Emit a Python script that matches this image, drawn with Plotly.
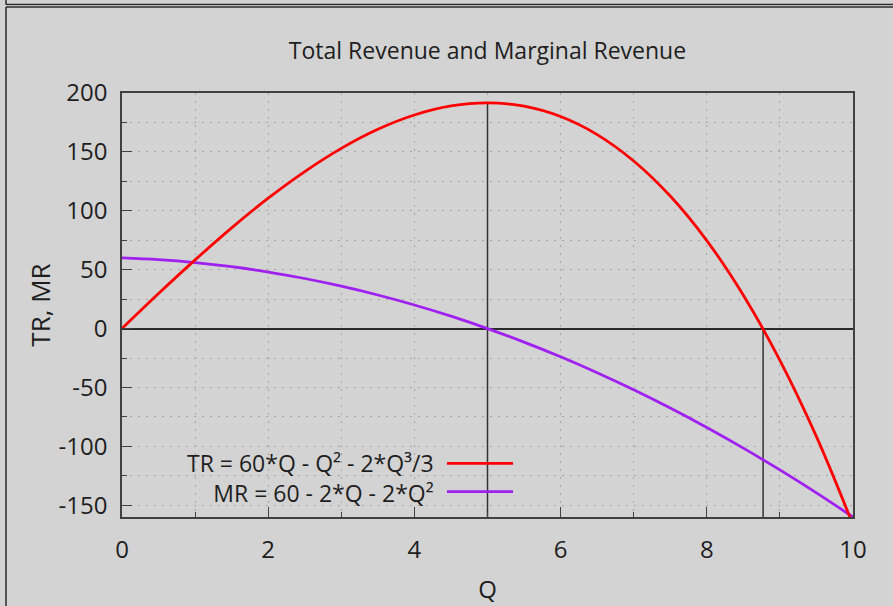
import plotly.graph_objects as go

# values
q = [0, 0.5, 1, 1.5, 2, 2.5, 3, 3.5, 4, 4.5, 5, 5.5, 6, 6.5, 7, 7.5, 8, 8.5, 9, 9.5, 10]
tr = [0, 29.7, 58.3, 85.5, 110.7, 133.3, 153.0, 169.2, 181.3, 189.0, 191.7,
      188.8, 180.0, 164.7, 142.3, 112.5, 74.7, 28.3, -27.0, -91.8, -166.7]
mr = [60, 58.5, 56, 52.5, 48, 42.5, 36, 28.5, 20, 10.5, 0,
      -11.5, -24, -37.5, -52, -67.5, -84, -101.5, -120, -139.5, -160]

guide_q = [5.0, 8.77]
guide_top = [191.7, 0.0]

x_ticks = [0, 2, 4, 6, 8, 10]
y_ticks = [-150, -100, -50, 0, 50, 100, 150, 200]
y_ticktext = ["-150", "-100", "-50", "0", "50", "100", "150", "200"]

y_range = [-160, 200]
x_range = [0, 10]

BG = "#d3d3d3"
INK = "#1e1e1e"
FONT = "Open Sans"
RED = "#ff0000"
PURPLE = "#a020f0"
GRID = "#a6a6a6"

tr_label = "TR = 60*Q - Q² - 2*Q³/3"
mr_label = "MR = 60 - 2*Q - 2*Q²"

# plot box in pixels
W, H = 893, 606
L, R, T, B = 122, 40, 93, 89
pw, ph = W - L - R, H - T - B


def px_x(p):
    return (p - L) / pw


def px_y(p):
    return (H - B - p) / ph


gx, gy = [], []
for gq, top in zip(guide_q, guide_top):
    gx += [gq, gq, None]
    gy += [y_range[0], top, None]

fig = go.Figure()
fig.add_trace(go.Scatter(x=gx, y=gy, mode="lines",
                         line=dict(color="#333333", width=1.5),
                         hoverinfo="skip", showlegend=False))
fig.add_trace(go.Scatter(x=q, y=mr, mode="lines", name=mr_label,
                         line=dict(color=PURPLE, width=2.8, shape="spline"),
                         showlegend=False))
fig.add_trace(go.Scatter(x=q, y=tr, mode="lines", name=tr_label,
                         line=dict(color=RED, width=2.8, shape="spline"),
                         showlegend=False))

# gnuplot-style key: right-aligned text block, sample lines after it
key_rows = [(RED, 463.3), (PURPLE, 491.7)]
annotations = [dict(
    text=tr_label + "<br>" + mr_label, align="right",
    x=px_x(436), y=px_y((key_rows[0][1] + key_rows[1][1]) / 2),
    xref="paper", yref="paper", xanchor="right", yanchor="middle",
    showarrow=False, font=dict(family=FONT, size=23, color=INK),
)]
shapes = []
for colour, ypix in key_rows:
    shapes.append(dict(
        type="line", xref="paper", yref="paper",
        x0=px_x(447), x1=px_x(513), y0=px_y(ypix), y1=px_y(ypix),
        line=dict(color=colour, width=2.8),
    ))

# window frame around the picture
frame = dict(color="#2a2a2a", width=1.5)
shapes += [
    dict(type="rect", xref="paper", yref="paper", x0=px_x(6), x1=px_x(W + 2),
         y0=px_y(4.5), y1=px_y(7), line=dict(width=0), fillcolor="#eeeeee", layer="below"),
    dict(type="line", xref="paper", yref="paper", x0=px_x(6), x1=px_x(W + 2),
         y0=px_y(4.5), y1=px_y(4.5), line=frame),
    dict(type="line", xref="paper", yref="paper", x0=px_x(6), x1=px_x(W + 2),
         y0=px_y(7), y1=px_y(7), line=frame),
    dict(type="line", xref="paper", yref="paper", x0=px_x(6), x1=px_x(6),
         y0=px_y(-2), y1=px_y(4.5), line=frame),
    dict(type="line", xref="paper", yref="paper", x0=px_x(6), x1=px_x(6),
         y0=px_y(7), y1=px_y(H + 2), line=frame),
]

axis_common = dict(
    automargin=False,
    showline=True, mirror=True, linecolor="#404040", linewidth=1.5,
    ticks="inside", ticklen=10, tickwidth=1.3, tickcolor="#404040",
    showgrid=True, gridcolor=GRID, gridwidth=1.3, griddash="2px,6px",
    tickfont=dict(family=FONT, size=24, color=INK),
)

fig.update_xaxes(
    range=x_range, tickvals=x_ticks, zeroline=False,
    minor=dict(dtick=1, ticks="inside", ticklen=5, tickcolor="#404040",
               showgrid=True, gridcolor=GRID, griddash="2px,6px"),
    ticklabelstandoff=10,
    title=dict(text="Q", standoff=18, font=dict(family=FONT, size=24, color=INK)),
    **axis_common,
)
fig.update_yaxes(
    range=y_range, tickvals=y_ticks, ticktext=y_ticktext,
    zeroline=True, zerolinecolor="#2a2a2a", zerolinewidth=1.5,
    minor=dict(dtick=25, tick0=0, ticks="inside", ticklen=5, tickcolor="#404040",
               showgrid=True, gridcolor=GRID, griddash="2px,6px"),
    ticklabelstandoff=8,
    title=dict(text="TR, MR", standoff=0, font=dict(family=FONT, size=26, color=INK)),
    **axis_common,
)

fig.update_layout(
    width=W, height=H,
    margin=dict(l=L, r=R, t=T, b=B),
    paper_bgcolor=BG, plot_bgcolor=BG,
    title=dict(text="Total Revenue and Marginal Revenue",
               x=px_x(L + pw / 2), xref="paper", xanchor="center",
               y=1 - 51 / H, yref="container", yanchor="middle",
               font=dict(family=FONT, size=23, color=INK)),
    shapes=shapes,
    annotations=annotations,
    showlegend=False,
)

fig.write_html("out.html", config={"displayModeBar": False},
               post_script="document.body.style.margin='0';")
